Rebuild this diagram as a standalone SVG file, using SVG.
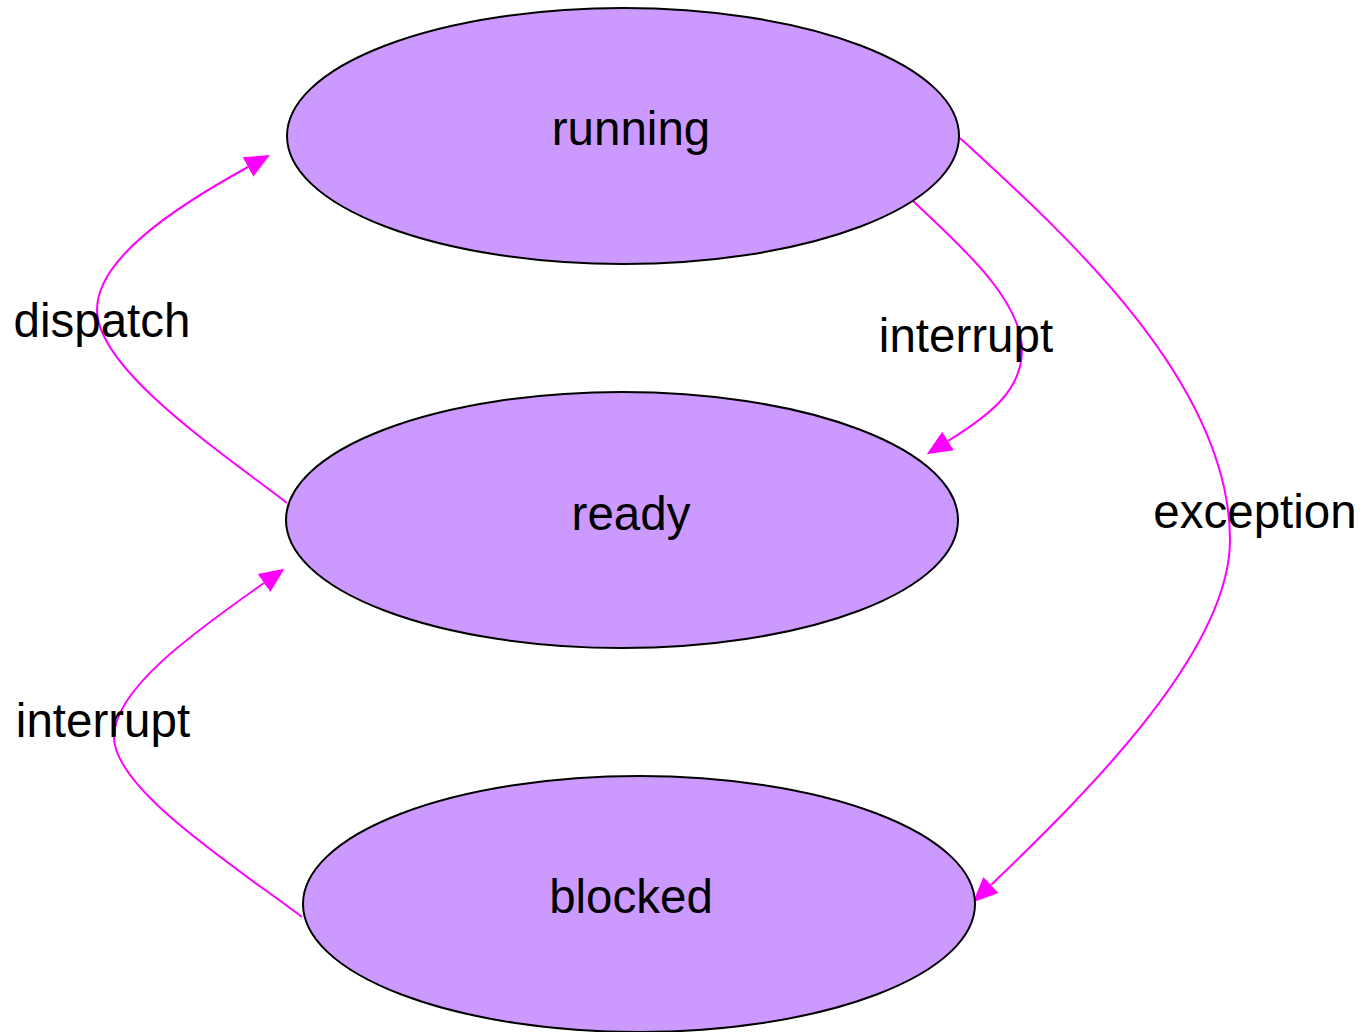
<svg xmlns="http://www.w3.org/2000/svg" width="1370" height="1032" viewBox="0 0 1370 1032">
  <style>
    .node ellipse { fill: #cc99ff; stroke: #000000; stroke-width: 2; }
    .node text, .label { font-family: "Liberation Sans", Arial, sans-serif; font-size: 47.5px; fill: #000000; text-anchor: middle; }
    .edge { fill: none; stroke: #ff00ff; stroke-width: 2; marker-end: url(#arrow); }
  </style>
  <defs>
    <marker id="arrow" markerUnits="userSpaceOnUse" markerWidth="26" markerHeight="24" refX="0" refY="12" orient="auto">
      <path d="M0,1 L25,12 L0,23 Z" fill="#ff00ff"/>
    </marker>
  </defs>
  <rect width="1370" height="1032" fill="#ffffff"/>

  <g id="connectors">
    <!-- ready -> running (dispatch) -->
    <path class="edge" d="M287,503 C225,455 97,370 97,310 C97,260 170,210 248,167"/>
    <!-- running -> ready (interrupt) -->
    <path class="edge" d="M913,201 C960,245 1022,300 1022,350 C1022,390 990,415 948,441"/>
    <!-- running -> blocked (exception) -->
    <path class="edge" d="M960,138 C1060,230 1230,380 1230,540 C1230,650 1090,790 991,885"/>
    <!-- blocked -> ready (interrupt) -->
    <path class="edge" d="M302,917 C240,870 114,790 114,737 C114,690 190,635 264,583"/>
    <text class="label" x="102" y="337">dispatch</text>
    <text class="label" x="966" y="352">interrupt</text>
    <text class="label" x="1255" y="528">exception</text>
    <text class="label" x="103" y="737">interrupt</text>
  </g>

  <g id="running" class="node">
    <ellipse cx="623" cy="136" rx="336" ry="128"/>
    <text x="631" y="145">running</text>
  </g>
  <g id="ready" class="node">
    <ellipse cx="622" cy="520" rx="336" ry="128"/>
    <text x="631" y="530">ready</text>
  </g>
  <g id="blocked" class="node">
    <ellipse cx="639" cy="904" rx="336" ry="128"/>
    <text x="631" y="913">blocked</text>
  </g>
</svg>
